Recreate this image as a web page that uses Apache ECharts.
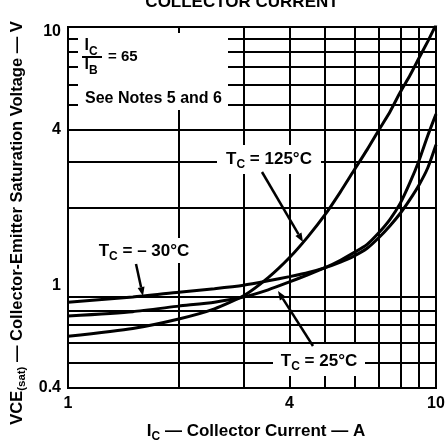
<!DOCTYPE html>
<html>
<head>
<meta charset="utf-8">
<script src="https://cdn.jsdelivr.net/npm/echarts@6/dist/echarts.min.js"></script>
<style>
  html, body { margin: 0; padding: 0; background: #fff; }
  #chart { width: 445px; height: 445px; }
</style>
</head>
<body>
<div id="chart"></div>
<script>
// collector current (A) and VCE(sat) (V)
const currents = [1, 1.5, 2, 2.5, 3, 3.5, 4, 4.5, 5, 5.5, 6, 6.5, 7, 7.5, 8, 8.5, 9, 9.5, 10];
const vceMinus30 = [0.86, 0.9, 0.94, 0.97, 1.0, 1.04, 1.08, 1.12, 1.17, 1.23, 1.3, 1.39, 1.53, 1.7, 1.9, 2.15, 2.45, 2.85, 3.5];
const vce25 = [0.76, 0.79, 0.83, 0.86, 0.9, 0.96, 1.03, 1.1, 1.17, 1.25, 1.34, 1.44, 1.6, 1.8, 2.08, 2.5, 3.05, 3.8, 4.6];
const vce125 = [0.634, 0.68, 0.74, 0.81, 0.91, 1.07, 1.28, 1.55, 1.88, 2.3, 2.8, 3.35, 4.0, 4.7, 5.6, 6.5, 7.6, 8.8, 10.2];

// log grid lines and tick labels
const xGrid = [2, 3, 4, 5, 6, 7, 8, 9];
const yGrid = [0.5, 0.6, 0.7, 0.8, 0.9, 2, 3, 4, 5, 6, 7, 8, 9];
const xTicks = [1, 4, 10];
const yTicks = [0.4, 1, 4, 10];

const FONT = "'Liberation Sans', Arial, sans-serif";
const chart = echarts.init(document.getElementById("chart"));

const pair = (ys) => currents.map((x, i) => [x, ys[i]]);

function curve(name, ys) {
  return {
    name,
    type: "line",
    data: pair(ys),
    smooth: 0.2,
    symbol: "none",
    clip: true,
    z: 5,
    lineStyle: { color: "#000", width: 3 },
  };
}

// arrow from tail to tip, drawn as a line plus a small head
function arrow(x1, y1, x2, y2) {
  const dx = x2 - x1, dy = y2 - y1;
  const len = Math.sqrt(dx * dx + dy * dy);
  const ux = dx / len, uy = dy / len;
  const bx = x2 - ux * 9, by = y2 - uy * 9;
  return [
    { type: "line", z: 20, shape: { x1, y1, x2: bx, y2: by }, style: { stroke: "#000", lineWidth: 2.5 } },
    {
      type: "polygon", z: 20,
      shape: { points: [[x2, y2], [bx - uy * 3.5, by + ux * 3.5], [bx + uy * 3.5, by - ux * 3.5]] },
      style: { fill: "#000" },
    },
  ];
}

function label(x, y, str, size) {
  const n = size || 17;
  return {
    type: "text", z: 21, x, y,
    style: {
      text: str,
      rich: {
        n: { fontSize: n, fontWeight: "bold", fontFamily: FONT, lineHeight: 24, verticalAlign: "middle" },
        s: { fontSize: 12, fontWeight: "bold", fontFamily: FONT, lineHeight: 12, verticalAlign: "bottom" },
      },
      align: "center", verticalAlign: "middle", fill: "#000",
    },
  };
}

function whiteBox(x, y, w, h) {
  return { type: "rect", z: 15, shape: { x, y, width: w, height: h }, style: { fill: "#fff" } };
}

chart.setOption({
  animation: false,
  backgroundColor: "#fff",
  grid: { left: 68, right: 9, top: 27, bottom: 57, show: true, borderColor: "#000", borderWidth: 2 },
  xAxis: {
    type: "log", logBase: 10, min: 1, max: 10,
    axisLine: { lineStyle: { color: "#000", width: 2 } },
    axisTick: { show: false }, axisLabel: { show: false },
    splitLine: { show: false }, minorSplitLine: { show: false },
  },
  yAxis: {
    type: "log", logBase: 10, min: 0.4, max: 10,
    axisLine: { lineStyle: { color: "#000", width: 2 } },
    axisTick: { show: false }, axisLabel: { show: false },
    splitLine: { show: false }, minorSplitLine: { show: false },
  },
  series: [
    {
      name: "grid",
      type: "line",
      data: [],
      z: 2,
      markLine: {
        silent: true,
        symbol: ["none", "none"],
        label: { show: false },
        lineStyle: { color: "#000", width: 2, type: "solid" },
        data: [
          ...xGrid.map((v) => ({ xAxis: v })),
          ...yGrid.map((v) => ({ yAxis: v })),
        ],
      },
      markPoint: {
        silent: true,
        symbol: "circle",
        symbolSize: 0,
        label: {
          show: true, color: "#000", fontFamily: FONT, fontWeight: "bold", fontSize: 16,
          formatter: (p) => String(p.value),
        },
        data: [
          ...yTicks.map((v) => ({
            coord: [1, v], value: v,
            label: { position: "left", distance: 7, offset: v === 10 ? [0, 5] : [0, 0] },
          })),
          ...xTicks.map((v) => ({
            coord: [v, 0.4], value: v,
            label: { position: "bottom", distance: 8 },
          })),
        ],
      },
    },
    curve("TC = -30°C", vceMinus30),
    curve("TC = 25°C", vce25),
    curve("TC = 125°C", vce125),
  ],
  graphic: [
    // note box and label backgrounds hide the grid behind them
    whiteBox(78, 33, 150, 77),
    whiteBox(217, 145, 104, 29),
    whiteBox(90, 238, 108, 25),
    whiteBox(273, 344, 92, 32),
    // ratio IC / IB = 65
    label(91, 46, "{n|I}{s|C}", 16),
    { type: "line", z: 21, shape: { x1: 82, y1: 57, x2: 102, y2: 57 }, style: { stroke: "#000", lineWidth: 2 } },
    label(91, 65, "{n|I}{s|B}", 16),
    { type: "text", z: 21, x: 108, y: 57, style: { text: "= 65", fill: "#000", font: "bold 15px " + FONT, verticalAlign: "middle" } },
    { type: "text", z: 21, x: 85, y: 99, style: { text: "See Notes 5 and 6", fill: "#000", font: "bold 16px " + FONT, verticalAlign: "middle" } },
    label(269, 159, "{n|T}{s|C}{n| = 125°C}"),
    label(144, 251, "{n|T}{s|C}{n| = – 30°C}"),
    label(319, 361, "{n|T}{s|C}{n| = 25°C}"),
    ...arrow(262, 172, 303, 242),
    ...arrow(136, 264, 143, 296),
    ...arrow(313, 346, 278, 291),
    // title fragment cut off at the top
    { type: "text", z: 21, x: 242, y: 2, style: { text: "COLLECTOR CURRENT", fill: "#000", font: "bold 17px " + FONT, align: "center", verticalAlign: "middle" } },
    // axis names
    label(256, 431, "{n|I}{s|C}{n| — Collector Current — A}"),
    {
      type: "text", z: 21, x: 17, y: 223, rotation: Math.PI / 2,
      style: {
        text: "{n|VCE}{s|(sat)}{n| — Collector-Emitter Saturation Voltage — V}",
        rich: {
          n: { fontSize: 16.5, fontWeight: "bold", fontFamily: FONT, lineHeight: 22, verticalAlign: "middle" },
          s: { fontSize: 11.5, fontWeight: "bold", fontFamily: FONT, lineHeight: 11, verticalAlign: "bottom" },
        },
        align: "center", verticalAlign: "middle", fill: "#000",
      },
    },
  ],
});
</script>
</body>
</html>
